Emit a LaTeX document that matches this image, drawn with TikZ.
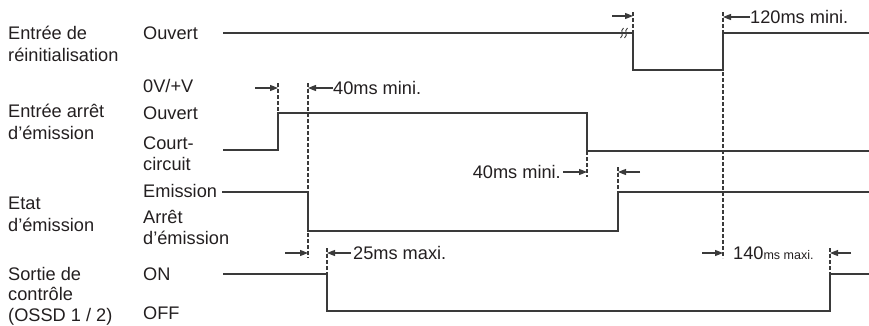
\documentclass[tikz,border=0pt]{standalone}
\usepackage{fontspec}
\setmainfont{Liberation Sans}
\usetikzlibrary{arrows.meta,positioning}
\definecolor{tdink}{HTML}{231F20}
\definecolor{tdline}{HTML}{3A3A3A}

\begin{document}
\begin{tikzpicture}[
  x=1pt, y=-1pt,
  font=\fontsize{18.2}{21.5}\selectfont, text=tdink,
  lbl/.style={anchor=base west, inner sep=0pt, align=left},
  note/.style={inner sep=0pt},
  sig/.style={draw=tdline, line width=1.3pt},
  guide/.style={draw=tdline, line width=1.1pt, dash pattern=on 3.5pt off 2.5pt},
  arr/.style={-{Triangle[length=8pt, width=6pt]}, draw=tdline, line width=1.1pt},
]
\useasboundingbox (0,0) rectangle (869,325);

% signal names (placed on the baseline of their last line)
\node[lbl] (reset) at (8,61) {Entrée de\\réinitialisation};
\node[lbl] (stop) at (8,139) {Entrée arrêt\\d’émission};
\node[lbl] (state) at (8,231) {Etat\\d’émission};
\node[lbl, font=\fontsize{18.2}{20.5}\selectfont] (ossd) at (8,321) {Sortie de\\contrôle\\(OSSD 1 / 2)};

% levels
\node[lbl] (resetOpen) at (143,39.5) {Ouvert};
\node[lbl] (stopV) at (143,92.5) {0V/+V};
\node[lbl] (stopOpen) at (143,119.5) {Ouvert};
\node[lbl, font=\fontsize{18.2}{20.5}\selectfont] (stopShort) at (143,170) {Court-\\circuit};
\node[lbl] (stateOn) at (143,197.5) {Emission};
\node[lbl, font=\fontsize{18.2}{21}\selectfont] (stateOff) at (143,244.5) {Arrêt\\d’émission};
\node[lbl] (ossdOn) at (143,280.5) {ON};
\node[lbl] (ossdOff) at (143,319.5) {OFF};

% time marks
\coordinate (tStop) at (278,0);
\coordinate (tHalt) at (308,0);
\coordinate (tOff) at (327,0);
\coordinate (tFree) at (587,0);
\coordinate (tRun) at (618,0);
\coordinate (tPush) at (633,0);
\coordinate (tRel) at (723,0);
\coordinate (tOn) at (830,0);

% dashed guides
\draw[guide] (tPush |- 0,12) -- (tPush |- 0,33);
\draw[guide] (tRel |- 0,12) -- (tRel |- 0,258);
\draw[guide] (tStop |- 0,83) -- (tStop |- 0,113);
\draw[guide] (tHalt |- 0,83) -- (tHalt |- 0,258);
\draw[guide] (tFree |- 0,151) -- (tFree |- 0,177);
\draw[guide] (tRun |- 0,167) -- (tRun |- 0,192);
\draw[guide] (tOff |- 0,248) -- (tOff |- 0,274);
\draw[guide] (tOn |- 0,248) -- (tOn |- 0,274);

% waveforms
\draw[sig] (223,33) -- (tPush |- 0,33) -- (tPush |- 0,70) -- (tRel |- 0,70) -- (tRel |- 0,33) -- (869,33);
\draw[sig] (223,150) -- (tStop |- 0,150) -- (tStop |- 0,113) -- (tFree |- 0,113) -- (tFree |- 0,151) -- (869,151);
\draw[sig] (222,192) -- (tHalt |- 0,192) -- (tHalt |- 0,231) -- (tRun |- 0,231) -- (tRun |- 0,192) -- (869,192);
\draw[sig] (223,274) -- (tOff |- 0,274) -- (tOff |- 0,311) -- (tOn |- 0,311) -- (tOn |- 0,274) -- (869,274);

% break mark
\draw[draw=tdline, line width=0.9pt] (623.5,28) .. controls (619.5,31) and (624.5,35) .. (620.5,38);
\draw[draw=tdline, line width=0.9pt] (627.5,28) .. controls (623.5,31) and (628.5,35) .. (624.5,38);

% timings
\draw[arr] (612,16) -- (tPush |- 0,16);
\node[note, anchor=west] (m120) at (750,17) {120ms mini.};
\draw[arr] (m120.west) -- (tRel |- m120);

\draw[arr] (255,88) -- (tStop |- 0,88);
\node[note, anchor=west] (m40a) at (333,88) {40ms mini.};
\draw[arr] (m40a.west) -- (tHalt |- m40a);

\node[note, anchor=east] (m40b) at (561,172) {40ms mini.};
\draw[arr] ([xshift=2pt]m40b.east) -- (tFree |- m40b);
\draw[arr] (640,172) -- (tRun |- 0,172);

\draw[arr] (285,253) -- (tHalt |- 0,253);
\node[note, anchor=west] (m25) at (353,253) {25ms maxi.};
\draw[arr] ([xshift=-2pt]m25.west) -- (tOff |- m25);

\draw[arr] (702,253) -- (tRel |- 0,253);
\node[note, anchor=base west] (m140) at (733,259.5) {140{\fontsize{12.5}{14}\selectfont ms maxi.}};
\draw[arr] (851,253) -- (tOn |- 0,253);
\end{tikzpicture}
\end{document}
